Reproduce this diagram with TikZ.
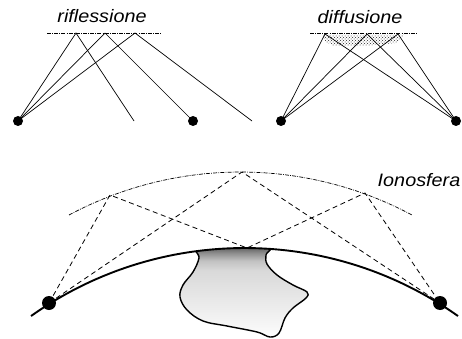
\documentclass[tikz,border=0pt]{standalone}
\usepackage{fontspec}
\usetikzlibrary{patterns}
\newfontfamily\labelfont[FakeStretch=1.1]{Liberation Sans}
% vertical shading of the land mass: dark under the surface, fading to white
\pgfdeclareverticalshading{landshade}{100bp}{color(0bp)=(white); color(25bp)=(white); color(30bp)=(black!3); color(45bp)=(black!9); color(60bp)=(black!15); color(65bp)=(black!24); color(69bp)=(black!44); color(72bp)=(black!62); color(75bp)=(black!72); color(100bp)=(black!72)}
\begin{document}
\begin{tikzpicture}[x=1pt,y=-1pt]
\tikzset{
  lbl/.style={font=\labelfont\itshape\fontsize{18}{21}\selectfont, anchor=base, inner sep=0pt},
  dotS/.style={circle, fill=black, inner sep=0pt, minimum size=10pt},
  dotL/.style={circle, fill=black, inner sep=0pt, minimum size=14pt},
  ray/.style={line width=0.7pt},
  hop/.style={line width=0.8pt, dash pattern=on 5pt off 3.5pt},
  layer/.style={line width=0.7pt, dash pattern=on 4pt off 1.2pt on 0.8pt off 1.2pt},
  ground/.style={line width=1.9pt},
  land/.style={line width=1.4pt, shading=landshade}
}
\useasboundingbox (0,0) rectangle (462,339);

% ---------- reflection ----------
\node[lbl] (tR) at (102,23) {riflessione};
\coordinate (rA) at (47,33);
\coordinate (rB) at (162,33);
\draw[layer] (rA) -- (rB);
\coordinate (r1) at (76,33);
\coordinate (r2) at (105,33);
\coordinate (r3) at (135,33);
\node[dotS] (s1) at (18,121) {};
\node[dotS] (s2) at (193,121) {};
\coordinate (e1) at (134,121);
\coordinate (e3) at (252,121);
\draw[ray] (s1.center) -- (r1) -- (e1);
\draw[ray] (s1.center) -- (r2) -- (s2.center);
\draw[ray] (s1.center) -- (r3) -- (e3);

% ---------- scattering ----------
\node[lbl] (tD) at (360,24) {diffusione};
\fill[pattern=crosshatch dots, pattern color=black!85]
  (322,35) -- (405,35) -- (396,43) -- (362,46) -- (334,46) -- (326,42) -- cycle;
\coordinate (dA) at (310,33);
\coordinate (dB) at (417,33);
\draw[layer] (dA) -- (dB);
\coordinate (d1) at (325,34);
\coordinate (d2) at (367,34);
\coordinate (d3) at (398,34);
\node[dotS] (q1) at (281,121) {};
\node[dotS] (q2) at (456,121) {};
\foreach \p in {d1,d2,d3}{
  \draw[ray] (q1.center) -- (\p) -- (q2.center);
}

% ---------- ionosphere hops ----------
\node[lbl] (tI) at (419,186) {Ionosfera};
\coordinate (ionc) at (240.5,535.5);
\coordinate (earthc) at (244.5,617);
\draw[layer] ([shift={(118.15:363.5pt)}]ionc) arc[start angle=118.15, end angle=61.85, radius=363.5pt];

% land mass under the surface
\begin{scope}
  \clip (earthc) circle[radius=369pt];
  \shadedraw[land] plot[smooth cycle, tension=0.6] coordinates {
    (199,244) (199,258) (193,272) (183,285) (180,297) (187,310) (203,321)
    (227,326) (257,332) (270,337) (279,333) (285,318) (293,308) (306,298)
    (307,292) (293,285) (277,275) (267,264) (266,255) (268,244)};
\end{scope}

% earth surface
\draw[ground] ([shift={(125.35:369pt)}]earthc) arc[start angle=125.35, end angle=54.65, radius=369pt];

% stations and sky-wave paths
\coordinate (iL) at (110,195);
\coordinate (iT) at (242,172);
\coordinate (iR) at (365,193);
\coordinate (gP) at (247,248);
\node[dotL] (b1) at (49,303) {};
\node[dotL] (b2) at (440,303) {};
\draw[hop] (b1.center) -- (iL) -- (gP) -- (iR) -- (b2.center);
\draw[hop] (b1.center) -- (iT) -- (b2.center);
\end{tikzpicture}
\end{document}
